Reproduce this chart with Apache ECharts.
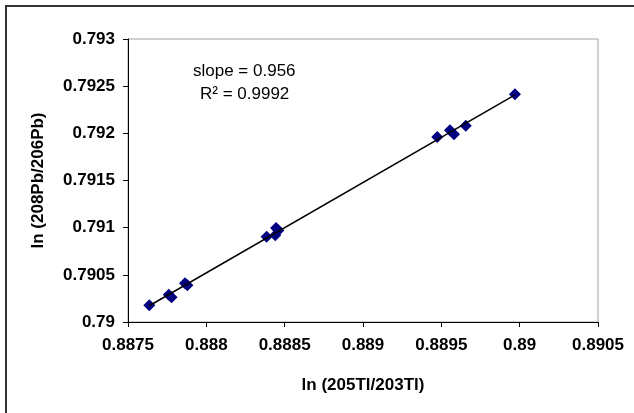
<!DOCTYPE html>
<html>
<head>
<meta charset="utf-8">
<script src="https://cdn.jsdelivr.net/npm/echarts@6/dist/echarts.min.js"></script>
<style>html,body{margin:0;padding:0;background:#fff}#c{width:634px;height:413px}</style>
</head>
<body>
<div id="c"></div>
<script>
const xValues = [0.887636, 0.887760, 0.887778, 0.887864, 0.887879, 0.888385, 0.888440, 0.888445, 0.888460, 0.889474, 0.889555, 0.889581, 0.889656, 0.889970];
const yValues = [0.790178, 0.790290, 0.790262, 0.790412, 0.790390, 0.790904, 0.790920, 0.790997, 0.790970, 0.791961, 0.792032, 0.791989, 0.792080, 0.792415];
const xTickLabels = ["0.8875", "0.888", "0.8885", "0.889", "0.8895", "0.89", "0.8905"];
const yTickLabels = ["0.79", "0.7905", "0.791", "0.7915", "0.792", "0.7925", "0.793"];
const annotation = ["slope = 0.956", "R\u00B2 = 0.9992"];

// least-squares trend line through the data
const n = xValues.length;
const mx = xValues.reduce((a, b) => a + b, 0) / n;
const my = yValues.reduce((a, b) => a + b, 0) / n;
let sxy = 0, sxx = 0;
for (let i = 0; i < n; i++) { sxy += (xValues[i] - mx) * (yValues[i] - my); sxx += (xValues[i] - mx) ** 2; }
const slope = sxy / sxx, icpt = my - slope * mx;
const xMin = Math.min(...xValues), xMax = Math.max(...xValues);
const trend = [[xMin, icpt + slope * xMin], [xMax, icpt + slope * xMax]];

const font = 'Liberation Sans, Arial, sans-serif';
const chart = echarts.init(document.getElementById('c'));
chart.setOption({
  animation: false,
  grid: { left: 128, right: 36, top: 39, bottom: 91, show: true, borderColor: '#a0a0a0', borderWidth: 1 },
  xAxis: {
    type: 'value', min: 0.8875, max: 0.8905, interval: 0.0005,
    name: 'ln (205Tl/203Tl)', nameLocation: 'middle', nameGap: 55,
    nameTextStyle: { fontFamily: font, fontWeight: 'bold', fontSize: 17, color: '#000' },
    axisLine: { show: true, onZero: false, lineStyle: { color: '#000', width: 1 } },
    axisTick: { show: true, inside: false, length: 5, lineStyle: { color: '#000' } },
    splitLine: { show: false },
    axisLabel: { margin: 15, fontFamily: font, fontWeight: 'bold', fontSize: 17, color: '#000',
      formatter: (v, i) => xTickLabels[i] }
  },
  yAxis: {
    type: 'value', min: 0.79, max: 0.793, interval: 0.0005,
    name: 'ln (208Pb/206Pb)', nameLocation: 'middle', nameGap: 81, nameRotate: 90,
    nameTextStyle: { fontFamily: font, fontWeight: 'bold', fontSize: 17, color: '#000' },
    axisLine: { show: true, onZero: false, lineStyle: { color: '#000', width: 1 } },
    axisTick: { show: true, inside: false, length: 5, lineStyle: { color: '#000' } },
    splitLine: { show: false },
    axisLabel: { margin: 13, fontFamily: font, fontWeight: 'bold', fontSize: 17, color: '#000',
      formatter: (v, i) => yTickLabels[i] }
  },
  series: [
    { type: 'scatter', symbol: 'diamond', symbolSize: 12, itemStyle: { color: '#000080', opacity: 1 },
      data: xValues.map((x, i) => [x, yValues[i]]), z: 2 },
    { type: 'line', data: trend, symbol: 'none', lineStyle: { color: '#000', width: 1.5 }, z: 3 }
  ],
  graphic: [
    { type: 'rect', shape: { x: 6, y: 6, width: 640, height: 420 }, style: { fill: 'none', stroke: '#333', lineWidth: 2 } },
    { type: 'text', left: 193, top: 63, style: { text: annotation[0], fontFamily: font, fontSize: 17, fill: '#000' } },
    { type: 'text', left: 200, top: 86, style: { text: annotation[1], fontFamily: font, fontSize: 17, fill: '#000' } }
  ]
});
</script>
</body>
</html>
